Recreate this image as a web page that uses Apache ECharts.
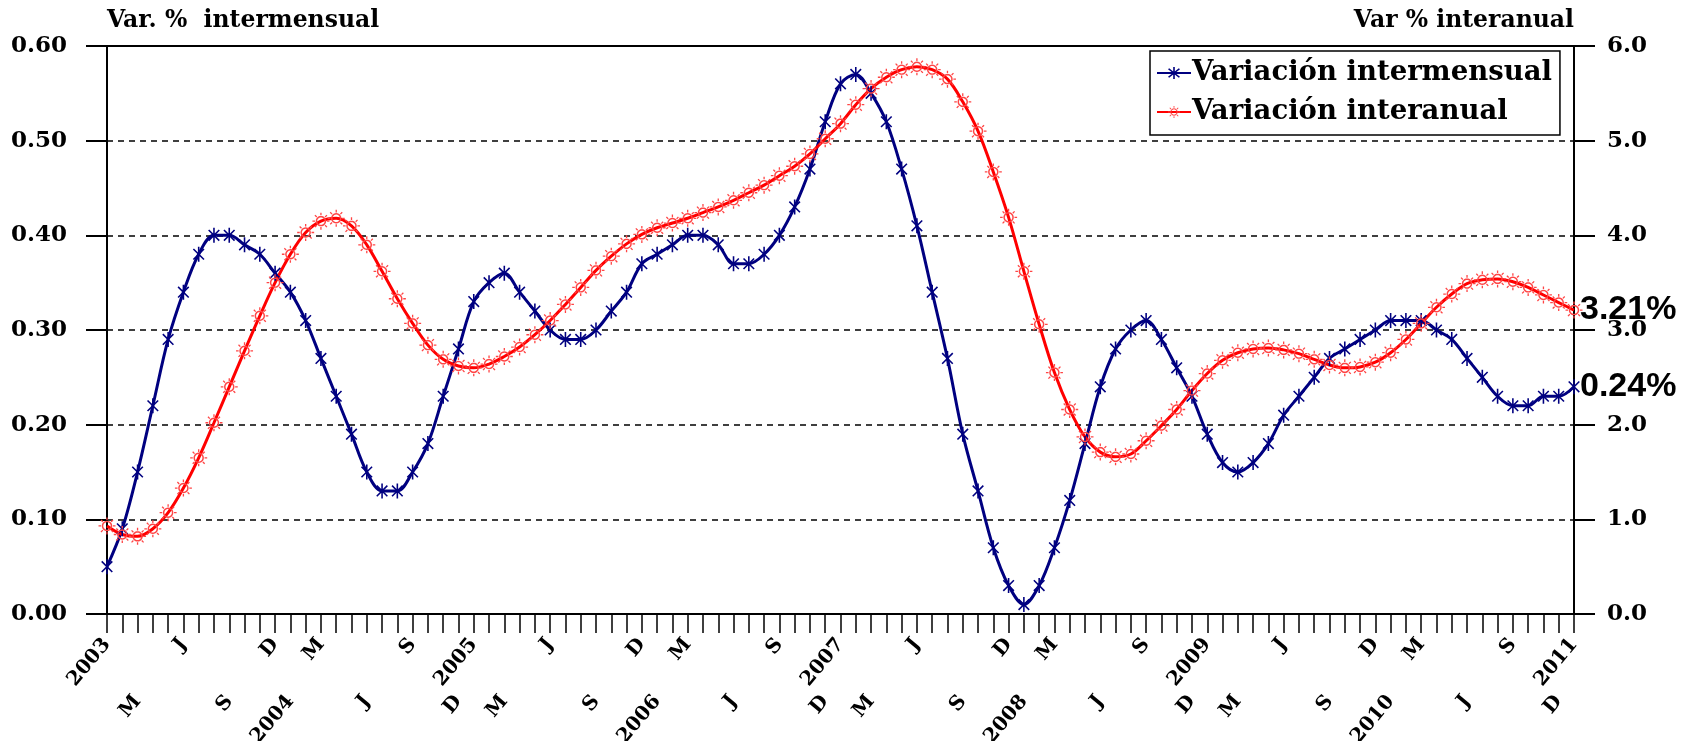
<!DOCTYPE html>
<html>
<head>
<meta charset="utf-8">
<script src="https://cdn.jsdelivr.net/npm/echarts@6/dist/echarts.min.js"></script>
<style>
  html, body { margin: 0; padding: 0; background: #fff; }
  #chart { width: 1683px; height: 741px; }
</style>
</head>
<body>
<div id="chart"></div>
<script>
// ---- data (monthly, Jan 2003 .. Jan 2011) ----
const years = ['2003', '2004', '2005', '2006', '2007', '2008', '2009', '2010', '2011'];
const monthLetters = ['', '', 'M', '', '', 'J', '', '', 'S', '', '', 'D']; // January shows the year

const intermensual = [
  0.05, 0.09, 0.15, 0.22, 0.29, 0.34, 0.38, 0.40, 0.40, 0.39, 0.38, 0.36,
  0.34, 0.31, 0.27, 0.23, 0.19, 0.15, 0.13, 0.13, 0.15, 0.18, 0.23, 0.28,
  0.33, 0.35, 0.36, 0.34, 0.32, 0.30, 0.29, 0.29, 0.30, 0.32, 0.34, 0.37,
  0.38, 0.39, 0.40, 0.40, 0.39, 0.37, 0.37, 0.38, 0.40, 0.43, 0.47, 0.52,
  0.56, 0.57, 0.55, 0.52, 0.47, 0.41, 0.34, 0.27, 0.19, 0.13, 0.07, 0.03,
  0.01, 0.03, 0.07, 0.12, 0.18, 0.24, 0.28, 0.30, 0.31, 0.29, 0.26, 0.23,
  0.19, 0.16, 0.15, 0.16, 0.18, 0.21, 0.23, 0.25, 0.27, 0.28, 0.29, 0.30,
  0.31, 0.31, 0.31, 0.30, 0.29, 0.27, 0.25, 0.23, 0.22, 0.22, 0.23, 0.23,
  0.24
];

const interanual = [
  0.93, 0.84, 0.82, 0.90, 1.07, 1.33, 1.65, 2.02, 2.40, 2.78, 3.15, 3.50,
  3.80, 4.03, 4.15, 4.18, 4.10, 3.90, 3.62, 3.33, 3.07, 2.84, 2.69, 2.62,
  2.60, 2.64, 2.72, 2.82, 2.95, 3.10, 3.27, 3.45, 3.63, 3.78, 3.91, 4.01,
  4.08, 4.13, 4.18, 4.24, 4.30, 4.37, 4.45, 4.53, 4.63, 4.73, 4.86, 5.02,
  5.18, 5.38, 5.55, 5.67, 5.75, 5.78, 5.75, 5.65, 5.41, 5.10, 4.67, 4.19,
  3.62, 3.06, 2.55, 2.16, 1.87, 1.71, 1.66, 1.69, 1.83, 1.99, 2.16, 2.36,
  2.54, 2.68, 2.76, 2.80, 2.81, 2.79, 2.75, 2.69, 2.63, 2.60, 2.61, 2.66,
  2.76, 2.90, 3.07, 3.24, 3.38, 3.49, 3.53, 3.54, 3.51, 3.45, 3.37, 3.29,
  3.21
];

const seriesNames = ['Variación intermensual', 'Variación interanual'];
const leftAxisTitle = 'Var. %  intermensual';
const rightAxisTitle = 'Var % interanual';

// ---- categories & label rows ----
const categories = [];
for (let y = 0; y < years.length; y++) {
  for (let m = 0; m < 12; m++) {
    if (y === years.length - 1 && m > 0) break;
    categories.push(m === 0 ? years[y] : monthLetters[m]);
  }
}
const labelRow = [];
let k = 0;
categories.forEach(c => { if (c) { labelRow.push(k % 2); k++; } else labelRow.push(-1); });

// ---- marker shapes ----
function bar(cx, cy, ang, r0, r1, w) {
  const dx = Math.cos(ang), dy = Math.sin(ang), nx = -dy, ny = dx;
  const p = [
    [cx + dx * r0 + nx * w, cy + dy * r0 + ny * w],
    [cx + dx * r1 + nx * w, cy + dy * r1 + ny * w],
    [cx + dx * r1 - nx * w, cy + dy * r1 - ny * w],
    [cx + dx * r0 - nx * w, cy + dy * r0 - ny * w]
  ];
  return 'M' + p.map(q => q[0].toFixed(2) + ' ' + q[1].toFixed(2)).join(' L') + ' Z ';
}
function circle(cx, cy, r, ccw) {
  const n = 24, pts = [];
  for (let i = 0; i < n; i++) {
    const a = (ccw ? -1 : 1) * i / n * Math.PI * 2;
    pts.push((cx + r * Math.cos(a)).toFixed(2) + ' ' + (cy + r * Math.sin(a)).toFixed(2));
  }
  return 'M' + pts.join(' L') + ' Z ';
}
const asterisk = 'path://' + [90, 45, 135].map(d => bar(10, 10, d * Math.PI / 180, -9.5, 9.5, 1.0)).join('');
let sunP = circle(10, 10, 6.0, false) + circle(10, 10, 4.3, true);
for (let i = 0; i < 8; i++) sunP += bar(10, 10, i * Math.PI / 4, 6.8, 9.8, 0.75);
const sun = 'path://' + sunP;

const serifBold = { fontFamily: 'DejaVu Serif', fontWeight: 'bold', color: '#000' };

const chart = echarts.init(document.getElementById('chart'));
const xBase = {
  type: 'category',
  data: categories,
  boundaryGap: false,
  position: 'bottom',
  splitLine: { show: false }
};
const endLabelStyle = {
  show: true, distance: 6,
  formatter: p => p.value.toFixed(2) + '%',
  fontFamily: 'Liberation Sans', fontWeight: 'bold', fontSize: 34, color: '#000'
};
chart.setOption({
  animation: false,
  backgroundColor: '#fff',
  title: [
    { text: leftAxisTitle, left: 107, top: 9, padding: 0, textStyle: Object.assign({ fontSize: 23.5 }, serifBold) },
    { text: rightAxisTitle, right: 109, top: 9, padding: 0, textStyle: Object.assign({ fontSize: 23.5 }, serifBold) }
  ],
  grid: {
    left: 107, right: 109, top: 46, bottom: 127,
    outerBoundsMode: 'none', containLabel: false,
    show: true, borderColor: '#000', borderWidth: 2, backgroundColor: 'transparent'
  },
  legend: {
    data: seriesNames,
    orient: 'vertical',
    left: 1150, top: 51,
    backgroundColor: '#fff',
    borderColor: '#000', borderWidth: 1.5,
    padding: [8, 8, 9, 6],
    itemGap: 11,
    itemWidth: 34, itemHeight: 15,
    textStyle: Object.assign({ fontSize: 27.5, padding: [0, 0, 0, -4] }, serifBold)
  },
  xAxis: [
    Object.assign({}, xBase, {
      axisLine: { show: true, lineStyle: { color: '#000', width: 2 } },
      axisTick: { show: true, interval: 0, length: 19, lineStyle: { color: '#000', width: 1.5 } },
      axisLabel: Object.assign({
        interval: 0, rotate: 50, margin: 27, fontSize: 20,
        formatter: (v, i) => labelRow[i] === 0 ? v : ''
      }, serifBold)
    }),
    Object.assign({}, xBase, {
      axisLine: { show: false },
      axisTick: { show: false },
      axisLabel: Object.assign({
        interval: 0, rotate: 50, margin: 84, fontSize: 20,
        formatter: (v, i) => labelRow[i] === 1 ? v : ''
      }, serifBold)
    })
  ],
  yAxis: [
    {
      type: 'value', position: 'left', min: 0, max: 0.6, interval: 0.1,
      axisLine: { show: true, lineStyle: { color: '#000', width: 2 } },
      axisTick: { show: true, length: 21, lineStyle: { color: '#000', width: 2 } },
      axisLabel: Object.assign({ margin: 40, fontSize: 23, formatter: v => v.toFixed(2) }, serifBold),
      splitLine: { show: true, lineStyle: { color: '#000', width: 1.5, type: [6, 5] } }
    },
    {
      type: 'value', position: 'right', min: 0, max: 6, interval: 1,
      axisLine: { show: true, lineStyle: { color: '#000', width: 2 } },
      axisTick: { show: true, length: 21, lineStyle: { color: '#000', width: 2 } },
      axisLabel: { show: false },
      splitLine: { show: false }
    },
    {
      type: 'value', position: 'right', offset: 33, min: 0, max: 6, interval: 1,
      axisLine: { show: false },
      axisTick: { show: false },
      axisLabel: Object.assign({ margin: 0, fontSize: 23, align: 'left', formatter: v => v.toFixed(1) }, serifBold),
      splitLine: { show: false }
    }
  ],
  series: [
    {
      name: seriesNames[0], type: 'line', xAxisIndex: 0, yAxisIndex: 0,
      data: intermensual, smooth: 0.35,
      symbol: asterisk, symbolSize: 15, symbolKeepAspect: true,
      lineStyle: { color: '#000080', width: 3 },
      itemStyle: { color: '#000080' },
      endLabel: endLabelStyle
    },
    {
      name: seriesNames[1], type: 'line', xAxisIndex: 0, yAxisIndex: 1,
      data: interanual, smooth: 0.35,
      symbol: sun, symbolSize: 17, symbolKeepAspect: true,
      lineStyle: { color: '#ff0000', width: 3 },
      itemStyle: { color: '#ff4545' },
      endLabel: endLabelStyle
    }
  ]
});
</script>
</body>
</html>
